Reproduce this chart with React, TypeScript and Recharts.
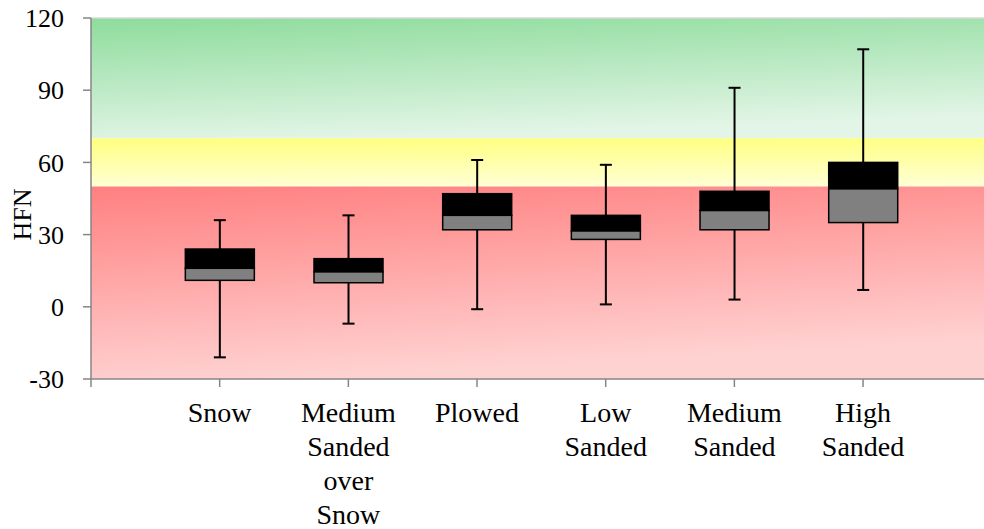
import React from "react";
import {
  Bar,
  ComposedChart,
  ReferenceArea,
  ReferenceLine,
  XAxis,
  YAxis,
} from "recharts";

const CATEGORIES = ["Snow", "Medium Sanded over Snow", "Plowed", "Low Sanded", "Medium Sanded", "High Sanded"];
const LABEL_LINES = [["Snow"], ["Medium", "Sanded", "over", "Snow"], ["Plowed"], ["Low", "Sanded"], ["Medium", "Sanded"], ["High", "Sanded"]];
const MINS = [-21, -7, -1, 1, 3, 7];
const Q1 = [11, 10, 32, 28, 32, 35];
const MEDIANS = [16, 14.5, 38, 31.5, 40, 49];
const Q3 = [24, 20, 47, 38, 48, 60];
const MAXS = [36, 38, 61, 59, 91, 107];
const Y_TICKS = [-30, 0, 30, 60, 90, 120];
const X_TICKS = [0, 1, 2, 3, 4, 5, 6];

const FONT = "Liberation Serif, Tinos, Times New Roman, DejaVu Serif, serif";

const data = CATEGORIES.map((name, i) => ({
  pos: i + 1,
  name,
  range: [MINS[i], MAXS[i]],
  min: MINS[i],
  q1: Q1[i],
  median: MEDIANS[i],
  q3: Q3[i],
  max: MAXS[i],
}));

// draws whisker + two-tone box inside the min..max bar geometry
function BoxShape(props: any) {
  const { x, y, width, height, payload } = props;
  if (!payload) return null;
  const top = Math.min(y, y + height);
  const h = Math.abs(height);
  const { min, max, q1, median, q3 } = payload;
  const toY = (v: number) => top + (h * (max - v)) / (max - min);
  const cx = x + width / 2;
  const yQ1 = toY(q1);
  const yMed = toY(median);
  const yQ3 = toY(q3);
  const cap = 6;
  return (
    <g>
      <line x1={cx} x2={cx} y1={top} y2={top + h} stroke="#000" strokeWidth={2} />
      <line x1={cx - cap} x2={cx + cap} y1={top} y2={top} stroke="#000" strokeWidth={2} />
      <line x1={cx - cap} x2={cx + cap} y1={top + h} y2={top + h} stroke="#000" strokeWidth={2} />
      <rect x={x} y={yQ3} width={width} height={yMed - yQ3} fill="#000" stroke="#000" strokeWidth={1.5} />
      <rect x={x} y={yMed} width={width} height={yQ1 - yMed} fill="#808080" stroke="#000" strokeWidth={1.5} />
    </g>
  );
}

function CategoryTick(props: any) {
  const { x, y, payload } = props;
  const idx = payload.value - 1;
  const lines = LABEL_LINES[idx];
  if (!lines) return null;
  return (
    <text x={x} y={y + 33} textAnchor="middle" style={{ fontFamily: FONT }} fontSize={28} fill="#000">
      {lines.map((ln, i) => (
        <tspan key={i} x={x} dy={i === 0 ? 0 : 34}>
          {ln}
        </tspan>
      ))}
    </text>
  );
}

function AxisTitle(props: any) {
  const { viewBox } = props;
  const cx = viewBox.x + 22;
  const cy = viewBox.y + viewBox.height / 2 + 16;
  return (
    <text
      x={cx}
      y={cy}
      transform={`rotate(-90, ${cx}, ${cy})`}
      textAnchor="middle"
      dominantBaseline="central"
      style={{ fontFamily: FONT }}
      fontSize={26}
      fill="#000"
    >
      HFN
    </text>
  );
}

export default function App() {
  return (
    <div style={{ position: "absolute", left: 0, top: 0, width: 984, height: 529, background: "#fff", fontFamily: FONT }}>
      <ComposedChart width={984} height={529} data={data} margin={{ top: 18, right: 0, bottom: 0, left: 0 }}>
        <defs>
          <linearGradient id="gGreen" x1="0" y1="0" x2="0.25" y2="1">
            <stop offset="0%" stopColor="#8EDC9C" />
            <stop offset="100%" stopColor="#E2F5E6" />
          </linearGradient>
          <linearGradient id="gYellow" x1="0" y1="0" x2="0.05" y2="1">
            <stop offset="0%" stopColor="#FFFF80" />
            <stop offset="100%" stopColor="#FFFFD2" />
          </linearGradient>
          <linearGradient id="gRed" x1="0" y1="0" x2="0.25" y2="1">
            <stop offset="0%" stopColor="#FF8080" />
            <stop offset="100%" stopColor="#FFD2D2" />
          </linearGradient>
        </defs>
        <ReferenceArea y1={70} y2={120} fill="url(#gGreen)" fillOpacity={1} stroke="none" ifOverflow="visible" />
        <ReferenceArea y1={50} y2={70} fill="url(#gYellow)" fillOpacity={1} stroke="none" ifOverflow="visible" />
        <ReferenceArea y1={-30} y2={50} fill="url(#gRed)" fillOpacity={1} stroke="none" ifOverflow="visible" />
        <ReferenceLine y={120} stroke="#D9D9D9" strokeWidth={1.5} />
        <XAxis
          type="number"
          dataKey="pos"
          domain={[0, 6.94]}
          ticks={X_TICKS}
          interval={0}
          height={150}
          axisLine={{ stroke: "#868686", strokeWidth: 1.5 }}
          tickLine={{ stroke: "#868686", strokeWidth: 1.5 }}
          tickSize={8}
          tick={<CategoryTick />}
          allowDataOverflow
        />
        <YAxis
          type="number"
          domain={[-30, 120]}
          ticks={Y_TICKS}
          interval={0}
          width={91}
          axisLine={{ stroke: "#868686", strokeWidth: 1.5 }}
          tickLine={{ stroke: "#868686", strokeWidth: 1.5 }}
          tickSize={8}
          tickMargin={19}
          tick={{ fontFamily: FONT, fontSize: 26, fill: "#000", style: { fontFamily: FONT } }}
          label={{ content: <AxisTitle /> }}
        />
        <Bar dataKey="range" barSize={69} shape={<BoxShape />} isAnimationActive={false} />
      </ComposedChart>
    </div>
  );
}
